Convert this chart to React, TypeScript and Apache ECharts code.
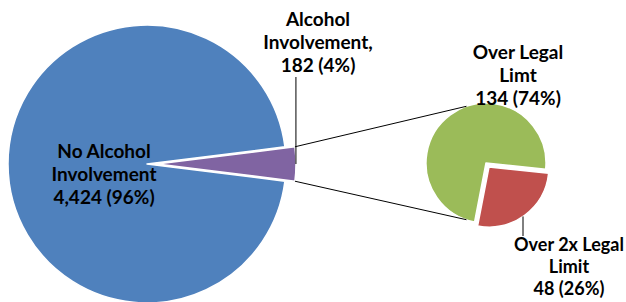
import React, { useEffect, useRef } from "react";
import * as echarts from "echarts";

// Primary pie (first item is the "other" slice split into the secondary pie)
const mainLabels = ["Alcohol\nInvolvement,", "No Alcohol\nInvolvement"];
const mainNames = ["Alcohol Involvement", "No Alcohol Involvement"];
const mainValues = [182, 4424];
const mainColors = ["#8064A2", "#4F81BD"];

// Secondary pie (breakdown of Alcohol Involvement)
const subLabels = ["Over 2x Legal\nLimit", "Over Legal\nLimt"];
const subNames = ["Over 2x Legal Limit", "Over Legal Limt"];
const subValues = [48, 134];
const subColors = ["#C0504D", "#9BBB59"];

const W = 626;
const H = 302;
const C1 = [147, 164];
const R1 = 139;
const OFF1 = 10;
const C2 = [486, 163];
const R2 = 60;
const OFF2 = 5;
const SUB_START = -6;
const CONNECT_ANGLE = 109;

const mainLabelPos = [
  [318, 41],
  [104, 173],
];
const subLabelPos = [
  [569, 266],
  [518, 74],
];
const subLabelSize = [18, 19];
const subLabelLineHeight = [22, 23];

const FONT = "Lato, 'Open Sans', sans-serif";

export default function App() {
  const ref = useRef<HTMLDivElement>(null);
  useEffect(() => {
    if (!ref.current) return;
    const chart = echarts.init(ref.current, undefined, { renderer: "svg" });
    const rad = (d: number) => (d * Math.PI) / 180;
    const total = mainValues.reduce((a, b) => a + b, 0);
    const half = (360 * mainValues[0]) / total / 2;
    const subTotal = subValues.reduce((a, b) => a + b, 0);
    const redMidDeg = SUB_START - (360 * subValues[0]) / subTotal / 2;

    // exploded slice centres (offset along the slice bisector)
    const C1x = [C1[0] + OFF1, C1[1]];
    const C2x = [
      C2[0] + OFF2 * Math.cos(rad(redMidDeg)),
      C2[1] - OFF2 * Math.sin(rad(redMidDeg)),
    ];

    const upper = [C1x[0] + R1 * Math.cos(rad(half)), C1x[1] - R1 * Math.sin(rad(half))];
    const lower = [C1x[0] + R1 * Math.cos(rad(half)), C1x[1] + R1 * Math.sin(rad(half))];
    const sTop = [C2[0] + R2 * Math.cos(rad(CONNECT_ANGLE)), C2[1] - R2 * Math.sin(rad(CONNECT_ANGLE))];
    const sBot = [C2[0] + R2 * Math.cos(rad(CONNECT_ANGLE)), C2[1] + R2 * Math.sin(rad(CONNECT_ANGLE))];
    const leaderX = 523;
    const leaderY0 = C2x[1] + Math.sqrt(R2 * R2 - (leaderX - C2x[0]) * (leaderX - C2x[0]));
    const purpleLeaderX = upper[0] + 1;

    const fmt = (v: number) => v.toLocaleString("en-US");
    const lineStyle = { stroke: "#000", lineWidth: 1 };

    const labelCommon = {
      show: true,
      color: "#000",
      fontFamily: FONT,
      fontWeight: "bold" as const,
      fontSize: 19,
      lineHeight: 23,
      align: "center" as const,
    };
    const common = {
      type: "pie",
      clockwise: true,
      avoidLabelOverlap: false,
      emphasis: { disabled: true },
      labelLine: { show: false },
      silent: true,
    };
    const solid = (color: string) => ({ color, borderColor: "#fff", borderWidth: 1.5 });
    const clear = { color: "rgba(0,0,0,0)", borderWidth: 0 };

    chart.setOption({
      animation: false,
      series: [
        // primary pie, base (labels + unexploded slice)
        {
          ...common,
          center: C1,
          radius: R1,
          startAngle: half,
          label: {
            ...labelCommon,
            formatter: (p: any) =>
              `${mainLabels[p.dataIndex]}\n${fmt(p.value)} (${Math.round(p.percent)}%)`,
          },
          labelLayout: (p: any) => ({
            x: mainLabelPos[p.dataIndex][0],
            y: mainLabelPos[p.dataIndex][1],
            align: "center",
            verticalAlign: "middle",
          }),
          data: mainValues.map((v, i) => ({
            value: v,
            name: mainNames[i],
            itemStyle: i === 0 ? clear : solid(mainColors[i]),
          })),
        },
        // primary pie, exploded slice
        {
          ...common,
          center: C1x,
          radius: R1,
          startAngle: half,
          label: { show: false },
          data: mainValues.map((v, i) => ({
            value: v,
            name: mainNames[i],
            itemStyle: i === 0 ? solid(mainColors[i]) : clear,
          })),
        },
        // secondary pie, base
        {
          ...common,
          center: C2,
          radius: R2,
          startAngle: SUB_START,
          label: {
            ...labelCommon,
            formatter: (p: any) =>
              `${subLabels[p.dataIndex]}\n${fmt(p.value)} (${Math.round(p.percent)}%)`,
          },
          labelLayout: (p: any) => ({
            x: subLabelPos[p.dataIndex][0],
            y: subLabelPos[p.dataIndex][1],
            align: "center",
            verticalAlign: "middle",
          }),
          data: subValues.map((v, i) => ({
            value: v,
            name: subNames[i],
            itemStyle: i === 0 ? clear : solid(subColors[i]),
            label: { fontSize: subLabelSize[i], lineHeight: subLabelLineHeight[i] },
          })),
        },
        // secondary pie, exploded slice
        {
          ...common,
          center: C2x,
          radius: R2,
          startAngle: SUB_START,
          label: { show: false },
          data: subValues.map((v, i) => ({
            value: v,
            name: subNames[i],
            itemStyle: i === 0 ? solid(subColors[i]) : clear,
          })),
        },
      ],
      graphic: [
        { type: "line", z: 10, shape: { x1: upper[0], y1: upper[1], x2: sTop[0], y2: sTop[1] }, style: lineStyle },
        { type: "line", z: 10, shape: { x1: lower[0], y1: lower[1], x2: sBot[0], y2: sBot[1] }, style: lineStyle },
        { type: "line", z: 10, shape: { x1: purpleLeaderX, y1: 77, x2: purpleLeaderX, y2: C1[1] }, style: lineStyle },
        { type: "line", z: 10, shape: { x1: leaderX, y1: leaderY0, x2: leaderX, y2: 236 }, style: lineStyle },
      ],
    });
    return () => chart.dispose();
  }, []);
  return (
    <div
      ref={ref}
      style={{ position: "fixed", left: 0, top: 0, width: W, height: H, background: "#fff" }}
    />
  );
}
